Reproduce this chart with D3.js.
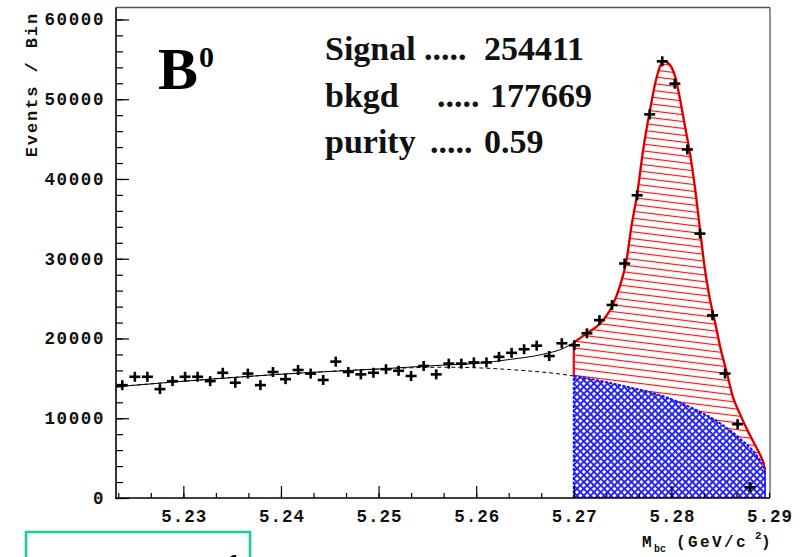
<!DOCTYPE html>
<html>
<head>
<meta charset="utf-8">
<script src="https://cdn.jsdelivr.net/npm/d3@7/dist/d3.min.js"></script>
<style>
  html, body { margin: 0; padding: 0; background: #fff; }
  svg { display: block; }
</style>
</head>
<body>
<svg id="chart" width="807" height="557"></svg>
<script>
// ---- Histogram: beam-constrained mass, B0 candidates ----
const massRange = [5.2231, 5.29];          // GeV/c^2, axis limits
const nBins = 52;                           // bins across massRange
const eventsPerBin = [
  14150, 15200, 15200, 13650, 14650, 15200, 15200, 14650, 15700, 14450,
  15600, 14150, 15800, 14900, 16050, 15600, 14800, 17100, 15800, 15500,
  15700, 16150, 15950, 15300, 16550, 15500, 16850, 16850, 17000, 17000,
  17700, 18200, 18650, 19100, 17800, 19400, 19150, 20650, 22300, 24200,
  29400, 37950, 48100, 54750, 51950, 43700, 33150, 22900, 15600, 9250,
  1350
];

// ---- Fit result: signal + background (total) ----
const fitMass = [
  5.2231, 5.2293, 5.2361, 5.2430, 5.2498, 5.2566, 5.2600, 5.2635, 5.2669, 5.2690,
  5.2700, 5.2713, 5.2727, 5.2739, 5.2747, 5.2754, 5.2759, 5.2765, 5.2771, 5.2778,
  5.2785, 5.2792, 5.2798, 5.2804, 5.2809, 5.2814, 5.2819, 5.2824, 5.2829, 5.2834,
  5.2839, 5.2845, 5.2850, 5.2857, 5.2863, 5.2870, 5.2877, 5.2884, 5.2891, 5.2896
];
const fitTotal = [
  13950, 14570, 15200, 15740, 16160, 16660, 16870, 17380, 18040, 18800,
  19500, 20630, 21880, 23970, 26470, 29810, 33990, 38170, 43590, 48600,
  52780, 54780, 54370, 52780, 49900, 46570, 43240, 39070, 33990, 28980,
  25220, 21880, 18950, 15620, 12690, 10610, 8730, 7050, 5390, 3920
];

// ---- Fit result: background (ARGUS-like) component ----
const bkgMass = [
  5.2231, 5.2293, 5.2361, 5.2430, 5.2498, 5.2566, 5.2635, 5.2700,
  5.2754, 5.2788, 5.2822, 5.2850, 5.2870, 5.2887, 5.2896
];
const bkgValue = [
  13950, 14570, 15200, 15740, 16160, 16400, 16100, 15300,
  13950, 12900, 11230, 9350, 7480, 5390, 3500
];

// ---- Signal window and annotations ----
const signalLow = 5.27;
const yTicks = [0, 10000, 20000, 30000, 40000, 50000, 60000];
const xTicks = [5.23, 5.24, 5.25, 5.26, 5.27, 5.28, 5.29];
const statLabels = ["Signal", "bkgd", "purity"];
const statValues = ["254411", "177669", "0.59"];

// ------------------------------------------------------------
const svg = d3.select("#chart");
const pLeft = 116, pRight = 769, pTop = 7.5, pBottom = 498;

const x = d3.scaleLinear().domain(massRange).range([pLeft, pRight]);
const y = d3.scaleLinear().domain([0, 61500]).range([pBottom, pTop]);

const defs = svg.append("defs");

// red single hatch for the signal component
const red = defs.append("pattern")
  .attr("id", "hatchRed").attr("patternUnits", "userSpaceOnUse")
  .attr("width", 20).attr("height", 6.8)
  .attr("patternTransform", "rotate(7)");
red.append("line").attr("x1", 0).attr("x2", 20).attr("y1", 3.4).attr("y2", 3.4)
  .attr("stroke", "#f01414").attr("stroke-width", 1.2);

// blue cross hatch for the background component
const blue = defs.append("pattern")
  .attr("id", "hatchBlue").attr("patternUnits", "userSpaceOnUse")
  .attr("width", 4.8).attr("height", 4.8)
  .attr("patternTransform", "rotate(45)");
blue.append("rect").attr("width", 4.8).attr("height", 4.8).attr("fill", "#2222ee");
blue.append("rect").attr("x", 1.0).attr("y", 1.0).attr("width", 2.9).attr("height", 2.9).attr("fill", "#ffffff");

const fitPts = fitMass.map((m, i) => [m, fitTotal[i]]);
const bkgPts = bkgMass.map((m, i) => [m, bkgValue[i]]);
const massEnd = fitMass[fitMass.length - 1];
const totalAtLow = fitTotal[fitMass.indexOf(signalLow)];
const bkgAtLow = bkgValue[bkgMass.indexOf(signalLow)];
const totalAtEnd = fitTotal[fitTotal.length - 1];
const bkgAtEnd = bkgValue[bkgValue.length - 1];

// clip rectangles: sideband and signal window
defs.append("clipPath").attr("id", "clipSig").append("rect")
  .attr("x", x(signalLow)).attr("y", 0)
  .attr("width", x(massEnd) - x(signalLow)).attr("height", pBottom);
defs.append("clipPath").attr("id", "clipSide").append("rect")
  .attr("x", pLeft).attr("y", 0)
  .attr("width", x(signalLow) - pLeft).attr("height", pBottom);

const line = d3.line().x(d => x(d[0])).y(d => y(d[1])).curve(d3.curveMonotoneX);
const area = d3.area().x(d => x(d[0])).y0(y(0)).y1(d => y(d[1])).curve(d3.curveMonotoneX);

// signal (red) area under total fit, then background (blue) on top
svg.append("path").attr("d", area(fitPts)).attr("fill", "url(#hatchRed)")
  .attr("clip-path", "url(#clipSig)");
svg.append("path").attr("d", area(bkgPts)).attr("fill", "url(#hatchBlue)")
  .attr("clip-path", "url(#clipSig)");

// thin black fit curves
svg.append("path").attr("d", line(fitPts)).attr("fill", "none")
  .attr("stroke", "#000").attr("stroke-width", 1).attr("clip-path", "url(#clipSide)");
svg.append("path").attr("d", line(bkgPts)).attr("fill", "none")
  .attr("stroke", "#000").attr("stroke-width", 1).attr("stroke-dasharray", "4,3")
  .attr("clip-path", "url(#clipSide)");

// red outline of the signal component
svg.append("path").attr("d", line(fitPts)).attr("fill", "none")
  .attr("stroke", "#ff0000").attr("stroke-width", 2.4).attr("clip-path", "url(#clipSig)");
svg.append("path").attr("d", line(fitPts)).attr("fill", "none")
  .attr("stroke", "#400000").attr("stroke-width", 0.6).attr("stroke-opacity", 0.6)
  .attr("clip-path", "url(#clipSig)");
svg.append("line")
  .attr("x1", x(signalLow)).attr("x2", x(signalLow))
  .attr("y1", y(bkgAtLow)).attr("y2", y(totalAtLow))
  .attr("stroke", "#ff0000").attr("stroke-width", 2.2);
svg.append("line")
  .attr("x1", x(massEnd)).attr("x2", x(massEnd))
  .attr("y1", y(bkgAtEnd)).attr("y2", y(totalAtEnd))
  .attr("stroke", "#ff0000").attr("stroke-width", 2);

// blue dashed outline of the background component
svg.append("path").attr("d", line(bkgPts)).attr("fill", "none")
  .attr("stroke", "#1010ff").attr("stroke-width", 2).attr("stroke-dasharray", "3,1.5")
  .attr("clip-path", "url(#clipSig)");
svg.append("line")
  .attr("x1", x(signalLow)).attr("x2", x(signalLow))
  .attr("y1", y(0)).attr("y2", y(bkgAtLow))
  .attr("stroke", "#1010ff").attr("stroke-width", 2).attr("stroke-dasharray", "3,1.5");
svg.append("line")
  .attr("x1", x(massEnd)).attr("x2", x(massEnd))
  .attr("y1", y(0)).attr("y2", y(bkgAtEnd))
  .attr("stroke", "#1010ff").attr("stroke-width", 1.6);

// ---- frame and axes ----
svg.append("line").attr("x1", pLeft).attr("x2", pRight + 1).attr("y1", pTop).attr("y2", pTop)
  .attr("stroke", "#555").attr("stroke-width", 1.5);
svg.append("line").attr("x1", pRight + 1).attr("x2", pRight + 1).attr("y1", pTop).attr("y2", pBottom)
  .attr("stroke", "#555").attr("stroke-width", 1.3);

const axisFont = "'Liberation Mono', 'DejaVu Sans Mono', monospace";

// y axis: major ticks every 10000, minor every 2000, drawn inward
const yAxis = d3.axisRight(y).tickValues(yTicks).tickSize(13).tickFormat("");
const yMinor = d3.axisRight(y).tickValues(d3.range(0, 61000, 2000)).tickSize(7).tickFormat("");
const gy = svg.append("g").attr("transform", `translate(${pLeft},0)`);
gy.call(yMinor);
gy.append("g").call(yAxis);
gy.selectAll(".domain").remove();
gy.selectAll("line").attr("stroke", "#000").attr("stroke-width", 1.2);
svg.append("line").attr("x1", pLeft).attr("x2", pLeft).attr("y1", pTop).attr("y2", pBottom + 1)
  .attr("stroke", "#000").attr("stroke-width", 1.6);
svg.selectAll(".ylab").data(yTicks).join("text")
  .attr("class", "ylab")
  .attr("x", 105).attr("y", d => y(d) + 6)
  .attr("text-anchor", "end")
  .attr("font-family", axisFont).attr("font-weight", "bold")
  .attr("font-size", 17.5).attr("letter-spacing", 1.6)
  .attr("fill", "#111")
  .text(d => d);

// x axis: major ticks every 0.01, three subdivisions, drawn upward
const xStep = 0.01 / 3;
const xMinorVals = d3.range(-2, 19).map(k => 5.23 + k * xStep)
  .filter(v => v > massRange[0] + 1e-4 && v <= massRange[1] + 1e-6);
const xAxis = d3.axisTop(x).tickValues(xTicks.slice(0, -1)).tickSize(12).tickFormat("");
const xMinor = d3.axisTop(x).tickValues(xMinorVals).tickSize(5).tickFormat("");
const gx = svg.append("g").attr("transform", `translate(0,${pBottom})`);
gx.call(xMinor);
gx.append("g").call(xAxis);
gx.selectAll(".domain").remove();
gx.selectAll("line").attr("stroke", "#000").attr("stroke-width", 1.2);
svg.append("line").attr("x1", pLeft).attr("x2", pRight + 1).attr("y1", pBottom).attr("y2", pBottom)
  .attr("stroke", "#000").attr("stroke-width", 1.6);
svg.selectAll(".xlab").data(xTicks).join("text")
  .attr("class", "xlab")
  .attr("x", d => x(d) + 1).attr("y", 522)
  .attr("text-anchor", "middle")
  .attr("font-family", axisFont).attr("font-weight", "bold")
  .attr("font-size", 17.5).attr("letter-spacing", 1)
  .attr("fill", "#111")
  .text(d => d.toFixed(2));

// axis titles
svg.append("text")
  .attr("transform", "translate(37,12) rotate(-90)")
  .attr("text-anchor", "end")
  .attr("font-family", axisFont).attr("font-weight", "bold")
  .attr("font-size", 17).attr("letter-spacing", 1.9)
  .attr("fill", "#111")
  .text("Events / Bin");

const xt = svg.append("text")
  .attr("font-family", axisFont).attr("font-weight", "bold")
  .attr("fill", "#111");
xt.append("tspan").attr("x", 642).attr("y", 547).attr("font-size", 16).text("M");
xt.append("tspan").attr("x", 654).attr("y", 552).attr("font-size", 10).text("bc");
xt.append("tspan").attr("x", 676).attr("y", 547).attr("font-size", 16).attr("letter-spacing", 2.4).text("(GeV/c");
xt.append("tspan").attr("x", 755).attr("y", 539).attr("font-size", 11).text("2");
xt.append("tspan").attr("x", 761).attr("y", 547).attr("font-size", 16).text(")");

// ---- data points with error crosses ----
const binWidth = (massRange[1] - massRange[0]) / nBins;
const points = eventsPerBin.map((n, i) => ({ m: massRange[0] + (i + 0.5) * binWidth, n }));
const pts = svg.append("g").attr("stroke", "#000").attr("stroke-width", 2.6);
pts.selectAll(".hbar").data(points).join("line").attr("class", "hbar")
  .attr("x1", d => x(d.m) - 5.5).attr("x2", d => x(d.m) + 5.5)
  .attr("y1", d => y(d.n)).attr("y2", d => y(d.n));
pts.selectAll(".vbar").data(points).join("line").attr("class", "vbar")
  .attr("x1", d => x(d.m)).attr("x2", d => x(d.m))
  .attr("y1", d => y(d.n) - 5).attr("y2", d => y(d.n) + 5);

// ---- labels ----
const serif = "'Liberation Serif', 'DejaVu Serif', serif";
const b0 = svg.append("text").attr("font-family", serif).attr("font-weight", "bold").attr("fill", "#000");
b0.append("tspan").attr("x", 158).attr("y", 89).attr("font-size", 60).text("B");
b0.append("tspan").attr("x", 199).attr("y", 67).attr("font-size", 30).text("0");

const statX = [325, 325, 325];
const dotsX = [424, 437, 430];
const numX = [484, 490, 484];
const statY = [60, 107, 153];
const stats = svg.append("g").attr("font-family", serif).attr("font-weight", "bold")
  .attr("font-size", 34).attr("fill", "#111");
statLabels.forEach((lab, i) => {
  const t = stats.append("text").attr("y", statY[i]);
  t.append("tspan").attr("x", statX[i]).text(lab);
  t.append("tspan").attr("x", dotsX[i]).text(".....");
  t.append("tspan").attr("x", numX[i]).text(statValues[i]);
});

// teal inset box at lower left
svg.append("rect").attr("x", 26).attr("y", 532).attr("width", 224).attr("height", 40)
  .attr("fill", "none").attr("stroke", "#1ccd9c").attr("stroke-width", 2.6);
svg.append("text").attr("x", 222).attr("y", 583).attr("font-family", serif)
  .attr("font-weight", "bold").attr("font-size", 42).attr("fill", "#000").text("1");
</script>
</body>
</html>
